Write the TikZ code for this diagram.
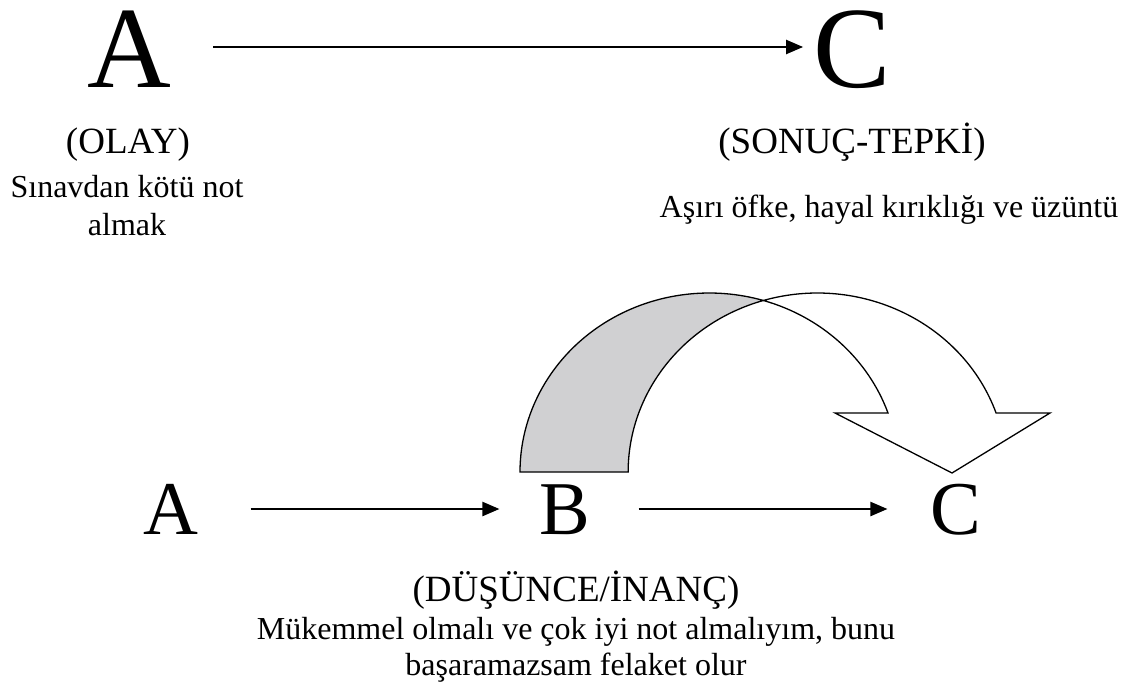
\documentclass[tikz,border=0pt]{standalone}
\usepackage{fontspec}
\setmainfont{Liberation Serif}
\usepackage{tikz}
\usetikzlibrary{arrows.meta}
\definecolor{cback}{RGB}{208,208,210}

\begin{document}
\begin{tikzpicture}[x=1pt,y=-1pt,
  big/.style={font=\fontsize{116}{116}\selectfont,inner sep=0,text height=80pt,text depth=0pt},
  let/.style={font=\fontsize{76}{76}\selectfont,inner sep=0,text height=51pt,text depth=0pt},
  hd/.style={font=\fontsize{37}{40}\selectfont,inner sep=0,anchor=base},
  tx/.style={font=\fontsize{32}{38}\selectfont,inner sep=0,align=center},
  a/.style={-{Triangle[length=17pt,width=14pt]},line width=2.2pt},
  band/.style={draw,line width=1.3pt,line join=miter},
]
\useasboundingbox (0,0) rectangle (1132,693);

% A -> C
\node[big] (A1) at (129,47) {A};
\node[big] (C1) at (852,47) {C};
\draw[a,shorten <=42pt,shorten >=10pt] (A1) -- (C1);
\node[hd] (olay) at (128,153) {(OLAY)};
\node[tx,anchor=north] (olayT) at (127,175) {Sınavdan kötü not\\almak};
\node[hd] (sonuc) at (852,153) {(SONUÇ-TEPKİ)};
\node[tx,anchor=base] (sonucT) at (889,217) {Aşırı öfke, hayal kırıklığı ve üzüntü};

% curved arrow B -> C
\draw[band,fill=cback] (520,472)
  arc[start angle=180,end angle=286.6,x radius=189.3,y radius=179]
  arc[start angle=253.4,end angle=180,x radius=189.3,y radius=179] -- cycle;
\draw[band,fill=white] (763.3,300.5)
  arc[start angle=253.4,end angle=340.75,x radius=189.3,y radius=179]
  -- (1050,413) -- (952,473) -- (835,413) -- (888,413)
  arc[start angle=340.75,end angle=286.6,x radius=189.3,y radius=179] -- cycle;

% A -> B -> C
\node[let] (A2) at (171,509) {A};
\node[let] (B2) at (565,509) {B};
\node[let] (C2) at (956,509) {C};
\draw[a,shorten <=52pt,shorten >=40pt] (A2) -- (B2);
\draw[a,shorten <=48pt,shorten >=43pt] (B2) -- (C2);
\node[hd] (inanc) at (576,601) {(DÜŞÜNCE/İNANÇ)};
\node[tx,anchor=north,font=\fontsize{32}{36}\selectfont] (inancT) at (576,617)
  {Mükemmel olmalı ve çok iyi not almalıyım, bunu\\başaramazsam felaket olur};
\end{tikzpicture}
\end{document}
